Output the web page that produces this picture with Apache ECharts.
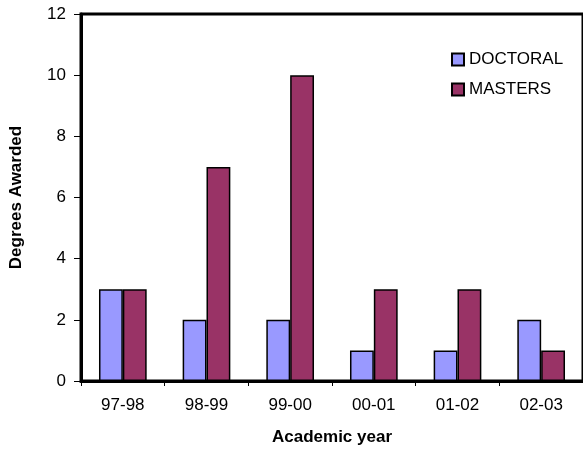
<!DOCTYPE html>
<html>
<head>
<meta charset="utf-8">
<script src="https://cdn.jsdelivr.net/npm/echarts@6/dist/echarts.min.js"></script>
<style>html,body{margin:0;padding:0;background:#fff;}#c{width:583px;height:451px;}</style>
</head>
<body>
<div id="c"></div>
<script>
const categories = ['97-98', '98-99', '99-00', '00-01', '01-02', '02-03'];
const doctoral = [3, 2, 2, 1, 1, 2];
const masters = [3, 7, 10, 3, 3, 1];
const yTicks = { min: 0, max: 12, interval: 2 };

const chart = echarts.init(document.getElementById('c'));
const font = 'Liberation Sans, Arial, sans-serif';
chart.setOption({
  animation: false,
  backgroundColor: '#fff',
  grid: { left: 78, top: 14, width: 516, height: 367, show: true, borderColor: '#000', borderWidth: 3, backgroundColor: 'transparent' },
  legend: {
    orient: 'vertical', left: 446, top: 46, itemWidth: 12, itemHeight: 12, itemGap: 13,
    icon: 'rect',
    textStyle: { fontFamily: font, fontSize: 17, color: '#000' },
    data: ['DOCTORAL', 'MASTERS']
  },
  xAxis: {
    type: 'category', data: categories,
    name: 'Academic year', nameLocation: 'middle', nameGap: 48,
    nameTextStyle: { fontFamily: font, fontSize: 17, fontWeight: 'bold', color: '#000' },
    axisLine: { lineStyle: { color: '#000', width: 3 } },
    axisTick: { show: true, length: 5, lineStyle: { color: '#000', width: 1 } },
    axisLabel: { fontFamily: font, fontSize: 17, color: '#000', margin: 16 }
  },
  yAxis: {
    type: 'value', min: yTicks.min, max: yTicks.max, interval: yTicks.interval,
    name: 'Degrees Awarded', nameLocation: 'middle', nameGap: 56,
    nameTextStyle: { fontFamily: font, fontSize: 17, fontWeight: 'bold', color: '#000' },
    axisLine: { show: true, lineStyle: { color: '#000', width: 3 } },
    axisTick: { show: true, length: 7, lineStyle: { color: '#000', width: 1 } },
    splitLine: { show: false },
    axisLabel: { fontFamily: font, fontSize: 17, color: '#000', margin: 15 }
  },
  series: [
    { name: 'DOCTORAL', type: 'bar', data: doctoral, barGap: '0%', barCategoryGap: '43%',
      itemStyle: { color: '#9999FF', borderColor: '#000', borderWidth: 1.5 } },
    { name: 'MASTERS', type: 'bar', data: masters, barGap: '0%', barCategoryGap: '43%',
      itemStyle: { color: '#993366', borderColor: '#000', borderWidth: 1.5 } }
  ]
});
</script>
</body>
</html>
